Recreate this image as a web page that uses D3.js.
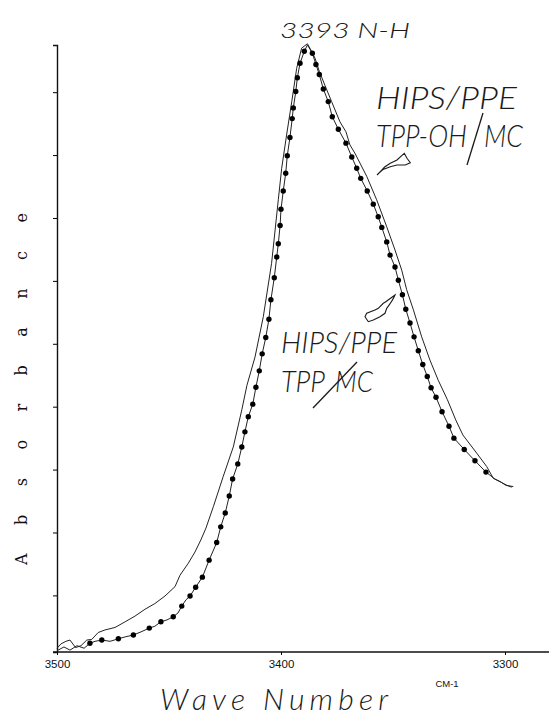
<!DOCTYPE html>
<html lang="en">
<head>
<meta charset="UTF-8">
<title>N-H absorbance band</title>
<script src="https://d3js.org/d3.v7.min.js"></script>
<style>
  body { margin: 0; background: #fff; }
  .tick text { font-family: Arial, "Liberation Sans", sans-serif; }
  .hand { font-family: Lato, sans-serif; font-weight: 300; font-style: italic; fill: #1a1a1a; }
</style>
</head>
<body>
<div id="chart"></div>
<script>
// HIPS/PPE TPP-OH/MC (plain line)
const ohWave = [3500.0, 3498.2, 3496.0, 3494.2, 3491.7, 3489.3, 3486.7, 3484.5, 3481.6, 3478.6,
  3474.1, 3469.6, 3465.2, 3460.7, 3456.3, 3451.8, 3447.3, 3445.1, 3441.4, 3438.4,
  3435.8, 3433.5, 3430.2, 3425.8, 3421.3, 3417.5, 3415.2, 3411.6, 3407.9, 3404.2,
  3401.2, 3399.7, 3397.5, 3395.2, 3393.0, 3390.8, 3388.2, 3387.1, 3384.8, 3382.9,
  3380.4, 3377.4, 3373.7, 3371.0, 3369.2, 3367.0, 3361.7, 3357.3, 3352.8, 3349.1,
  3346.1, 3343.9, 3340.9, 3337.2, 3333.5, 3329.8, 3325.7, 3322.0, 3318.8, 3312.6,
  3308.2, 3305.2, 3302.2, 3299.6, 3296.3];
const ohAbs = [0.016, 0.023, 0.027, 0.029, 0.017, 0.020, 0.029, 0.030, 0.041, 0.045,
  0.049, 0.058, 0.067, 0.078, 0.087, 0.099, 0.114, 0.132, 0.151, 0.169,
  0.188, 0.207, 0.241, 0.289, 0.336, 0.395, 0.434, 0.479, 0.543, 0.628,
  0.729, 0.779, 0.832, 0.885, 0.938, 0.970, 0.977, 0.970, 0.954, 0.933,
  0.911, 0.885, 0.853, 0.837, 0.816, 0.803, 0.766, 0.729, 0.686, 0.649,
  0.617, 0.586, 0.554, 0.511, 0.474, 0.442, 0.411, 0.379, 0.355, 0.326,
  0.305, 0.286, 0.281, 0.275, 0.273];

// HIPS/PPE TPP/MC (line with dots)
const mcWave = [3500.0, 3496.9, 3494.2, 3491.1, 3487.9, 3485.3, 3483.0, 3480.0, 3476.3, 3472.6,
  3469.6, 3465.9, 3462.5, 3458.8, 3456.3, 3453.6, 3450.9, 3448.1, 3446.0, 3444.3,
  3442.4, 3440.6, 3438.1, 3435.1, 3432.1, 3428.7, 3426.9, 3424.9, 3423.1, 3421.6,
  3419.3, 3417.5, 3416.1, 3414.6, 3412.6, 3411.2, 3409.7, 3408.4, 3406.8, 3405.4,
  3404.5, 3403.0, 3401.9, 3401.2, 3400.4, 3400.0, 3399.0, 3397.9, 3397.2, 3396.0,
  3395.0, 3394.5, 3393.4, 3392.7, 3391.5, 3389.6, 3388.2, 3386.0, 3384.4, 3382.9,
  3381.1, 3378.9, 3377.1, 3374.4, 3371.0, 3368.4, 3366.2, 3364.4, 3361.5, 3358.8,
  3356.6, 3355.0, 3352.8, 3351.3, 3349.1, 3347.6, 3345.8, 3344.3, 3342.4, 3340.6,
  3338.7, 3336.7, 3334.7, 3333.0, 3330.8, 3328.1, 3325.0, 3322.8, 3318.2, 3313.4,
  3308.5, 3304.5, 3301.3, 3299.2, 3297.0];
const mcAbs = [0.012, 0.018, 0.013, 0.020, 0.016, 0.024, 0.027, 0.029, 0.027, 0.031,
  0.034, 0.037, 0.042, 0.048, 0.051, 0.058, 0.061, 0.066, 0.072, 0.083,
  0.093, 0.099, 0.113, 0.129, 0.156, 0.184, 0.209, 0.231, 0.258, 0.285,
  0.309, 0.336, 0.360, 0.384, 0.404, 0.431, 0.457, 0.484, 0.510, 0.539,
  0.570, 0.605, 0.638, 0.659, 0.688, 0.714, 0.743, 0.771, 0.799, 0.828,
  0.858, 0.875, 0.901, 0.923, 0.946, 0.965, 0.975, 0.962, 0.944, 0.928,
  0.905, 0.885, 0.861, 0.841, 0.819, 0.797, 0.779, 0.763, 0.743, 0.722,
  0.702, 0.685, 0.662, 0.641, 0.622, 0.601, 0.578, 0.555, 0.533, 0.511,
  0.489, 0.467, 0.448, 0.430, 0.415, 0.392, 0.369, 0.350, 0.332, 0.314,
  0.296, 0.285, 0.279, 0.275, 0.272];
// 1 where the trace carries a dot
const mcDot = [0, 0, 0, 0, 0, 1, 0, 1, 0, 1,
  0, 1, 0, 1, 0, 1, 0, 1, 0, 1,
  0, 1, 1, 1, 1, 1, 1, 1, 1, 1,
  1, 1, 1, 1, 1, 1, 1, 1, 1, 1,
  1, 1, 1, 1, 1, 1, 1, 1, 1, 1,
  1, 1, 1, 1, 1, 1, 0, 1, 1, 1,
  1, 1, 1, 1, 1, 1, 1, 1, 1, 1,
  1, 1, 1, 1, 1, 1, 1, 1, 1, 1,
  1, 1, 1, 1, 1, 1, 1, 1, 1, 1,
  1, 0, 0, 0, 0];

const xTicks = [3500, 3400, 3300];
const yTicks = [0.1, 0.2, 0.3, 0.4, 0.5, 0.6, 0.7, 0.8, 0.9];

const W = 549, H = 718;
const svg = d3.select("#chart").append("svg")
    .attr("width", W).attr("height", H);

const x = d3.scaleLinear().domain([3500, 3300]).range([57, 505]);
const y = d3.scaleLinear().domain([0.01, 0.975]).range([652, 45]);

const oh = ohWave.map((w, i) => ({w: w, a: ohAbs[i]}));
const mc = mcWave.map((w, i) => ({w: w, a: mcAbs[i], dot: mcDot[i]}));

// axes
svg.append("line")
    .attr("x1", 53).attr("x2", W)
    .attr("y1", y(0.01)).attr("y2", y(0.01))
    .attr("stroke", "#111").attr("stroke-width", 1.3);

const xAxis = svg.append("g")
    .attr("transform", `translate(0,${y(0.01)})`)
    .call(d3.axisBottom(x).tickValues(xTicks).tickSize(3).tickPadding(5).tickFormat(d3.format("d")));
xAxis.select(".domain").remove();
xAxis.selectAll("text").attr("font-size", 11.5).attr("fill", "#111");

const yAxis = svg.append("g")
    .attr("transform", "translate(57,0)")
    .call(d3.axisLeft(y).tickValues(yTicks).tickSize(4).tickSizeOuter(4).tickFormat(""));
yAxis.select(".domain").attr("stroke", "#111").attr("stroke-width", 1.4);

// traces
const line = d3.line().x(d => x(d.w)).y(d => y(d.a));

svg.append("path").datum(oh)
    .attr("d", line)
    .attr("fill", "none").attr("stroke", "#222").attr("stroke-width", 1);

svg.append("path").datum(mc)
    .attr("d", line)
    .attr("fill", "none").attr("stroke", "#222").attr("stroke-width", 1);

svg.selectAll(".dot").data(mc.filter(d => d.dot))
  .enter().append("circle")
    .attr("class", "dot")
    .attr("cx", d => x(d.w)).attr("cy", d => y(d.a))
    .attr("r", 2.7).attr("fill", "#000");

// axis titles
svg.append("text")
    .attr("transform", "translate(27,389) rotate(-90)")
    .attr("text-anchor", "middle")
    .attr("font-family", "'DejaVu Serif', serif")
    .attr("font-size", 16)
    .attr("textLength", 352).attr("lengthAdjust", "spacing")
    .attr("fill", "#111")
    .text("Absorbance");

svg.append("text")
    .attr("class", "hand")
    .attr("x", 160).attr("y", 710)
    .attr("font-size", 30)
    .attr("textLength", 228).attr("lengthAdjust", "spacing")
    .text("Wave Number");

svg.append("text")
    .attr("x", 447).attr("y", 687)
    .attr("text-anchor", "middle")
    .attr("font-family", "Arial, 'Liberation Sans', sans-serif")
    .attr("font-size", 9.5).attr("fill", "#111")
    .text("CM-1");

// annotations
function hand(txt, x0, y0, size, len) {
  svg.append("text").attr("class", "hand")
      .attr("x", x0).attr("y", y0)
      .attr("font-size", size)
      .attr("textLength", len).attr("lengthAdjust", "spacingAndGlyphs")
      .text(txt);
}
function stroke(x1, y1, x2, y2) {
  svg.append("line")
      .attr("x1", x1).attr("y1", y1).attr("x2", x2).attr("y2", y2)
      .attr("stroke", "#1a1a1a").attr("stroke-width", 1.3);
}

hand("3393 N-H", 280, 38, 22, 130);

hand("HIPS/PPE", 376, 109, 31, 141);
hand("TPP-OH", 376, 147, 31, 91);
stroke(483, 113, 467, 165);
hand("MC", 484, 147, 31, 39);

hand("HIPS/PPE", 281, 353, 30, 116);
hand("TPP", 281, 392, 30, 44);
stroke(357, 362, 313, 408);
hand("MC", 335, 392, 30, 38);

// little pointers from the labels to the traces
svg.append("path")
    .attr("transform", "translate(377,175)")
    .attr("d", "M0,0 C3,-3 6,-6 8,-8.3 L13.3,-11.7 L20,-15 L25,-19.7 L27.3,-21.7 L30,-16.7 L33.3,-12.3 L28.3,-10 L20,-10 L13.3,-8.3 L6,-5.5 C4,-4 2,-2 0,0 Z")
    .attr("fill", "none").attr("stroke", "#1a1a1a").attr("stroke-width", 1.1);

svg.append("path")
    .attr("transform", "translate(395,295)")
    .attr("d", "M0,0 C-4,3 -8,6 -11.7,8.3 L-16.7,13.3 L-20,15 L-28.3,18.3 L-30,21.7 L-26.7,26.7 L-21.7,25 L-15,21.7 L-10,18.3 L-8.3,13.3 C-5,9 -2,5 0,0 Z")
    .attr("fill", "none").attr("stroke", "#1a1a1a").attr("stroke-width", 1.1);
</script>
</body>
</html>
